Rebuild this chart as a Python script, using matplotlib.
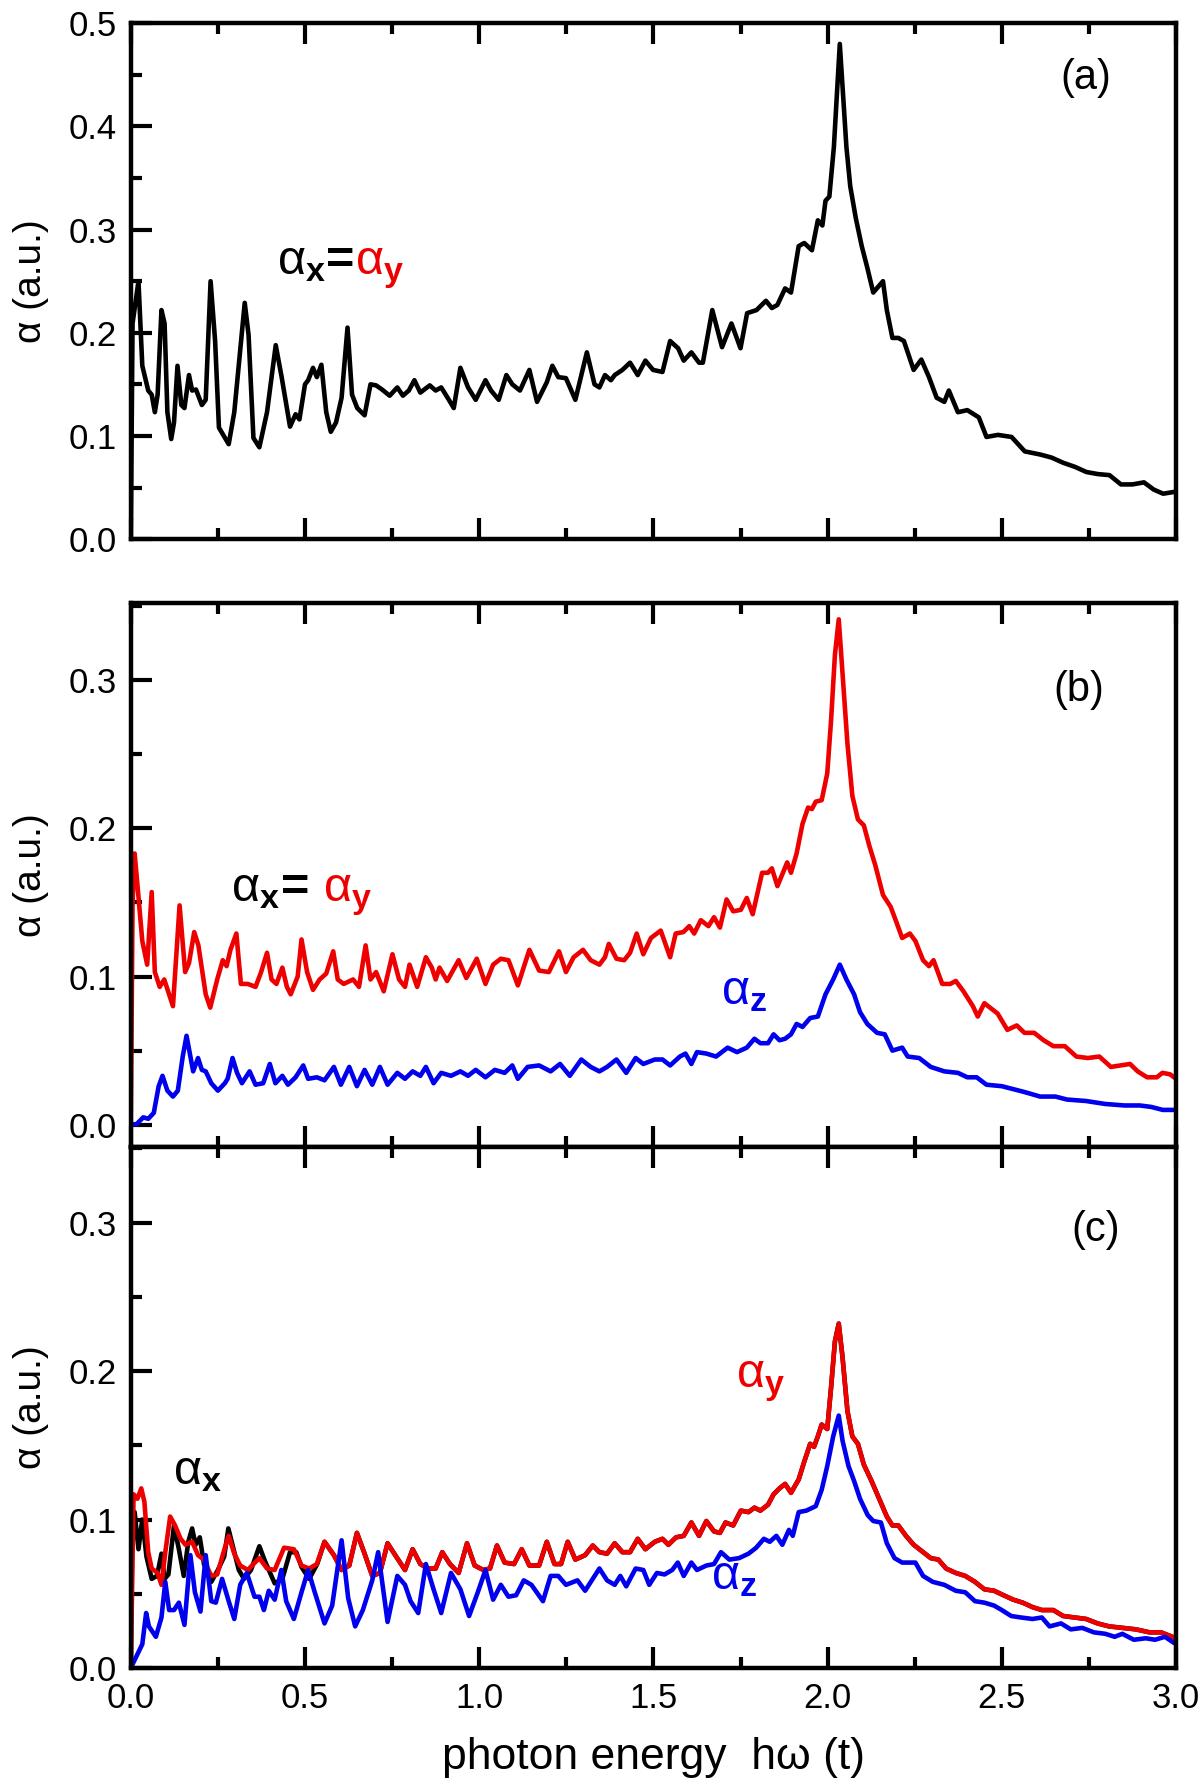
import matplotlib
matplotlib.use("Agg")
import matplotlib.pyplot as plt
from matplotlib.ticker import MultipleLocator, FormatStrFormatter

plt.rcParams['font.family'] = ['Liberation Sans', 'DejaVu Sans']
plt.rcParams['mathtext.fontset'] = 'custom'
plt.rcParams['mathtext.rm'] = 'Liberation Sans'
plt.rcParams['mathtext.bf'] = 'Liberation Sans:bold'
plt.rcParams['mathtext.it'] = 'Liberation Sans:italic'

# ---- panel (a): alpha_x = alpha_y
a_x = [0.0, 0.005, 0.022, 0.033, 0.05, 0.06, 0.069, 0.077, 0.088, 0.097, 0.105, 0.116, 0.124,
       0.134, 0.145, 0.154, 0.167, 0.176, 0.187, 0.204, 0.215, 0.229, 0.242, 0.253, 0.281,
       0.297, 0.327, 0.338, 0.352, 0.369, 0.391, 0.416, 0.433, 0.457, 0.473, 0.484, 0.5,
       0.509, 0.523, 0.534, 0.547, 0.561, 0.574, 0.589, 0.605, 0.622, 0.635, 0.65, 0.671,
       0.688, 0.704, 0.721, 0.743, 0.765, 0.781, 0.798, 0.814, 0.831, 0.858, 0.875, 0.891,
       0.913, 0.927, 0.946, 0.968, 0.99, 1.018, 1.034, 1.056, 1.078, 1.095, 1.117, 1.144,
       1.166, 1.194, 1.21, 1.227, 1.249, 1.276, 1.309, 1.331, 1.345, 1.361, 1.378, 1.389,
       1.411, 1.433, 1.455, 1.477, 1.499, 1.526, 1.548, 1.571, 1.587, 1.609, 1.631, 1.642,
       1.669, 1.697, 1.724, 1.75, 1.769, 1.796, 1.823, 1.84, 1.856, 1.878, 1.895, 1.917,
       1.933, 1.955, 1.972, 1.985, 1.994, 2.005, 2.018, 2.035, 2.054, 2.065, 2.081, 2.098,
       2.114, 2.131, 2.159, 2.17, 2.186, 2.203, 2.219, 2.247, 2.269, 2.291, 2.313, 2.335,
       2.348, 2.374, 2.401, 2.434, 2.456, 2.489, 2.528, 2.566, 2.61, 2.643, 2.676, 2.71,
       2.743, 2.776, 2.809, 2.842, 2.875, 2.908, 2.936, 2.963, 3.0]
a_y = [0.0, 0.209, 0.25, 0.168, 0.144, 0.14, 0.123, 0.14, 0.222, 0.209, 0.123, 0.097, 0.113,
       0.168, 0.13, 0.127, 0.159, 0.144, 0.145, 0.13, 0.135, 0.25, 0.192, 0.108, 0.092,
       0.123, 0.229, 0.198, 0.098, 0.089, 0.123, 0.188, 0.157, 0.109, 0.121, 0.116, 0.15,
       0.154, 0.166, 0.157, 0.169, 0.123, 0.104, 0.113, 0.137, 0.205, 0.14, 0.127, 0.12,
       0.15, 0.149, 0.145, 0.139, 0.147, 0.139, 0.144, 0.154, 0.142, 0.149, 0.144, 0.147,
       0.135, 0.127, 0.166, 0.147, 0.135, 0.154, 0.144, 0.135, 0.159, 0.15, 0.144, 0.164,
       0.133, 0.152, 0.168, 0.157, 0.156, 0.135, 0.181, 0.15, 0.147, 0.159, 0.154, 0.159,
       0.164, 0.171, 0.159, 0.173, 0.164, 0.162, 0.192, 0.185, 0.173, 0.181, 0.171, 0.171,
       0.222, 0.186, 0.209, 0.185, 0.219, 0.222, 0.231, 0.224, 0.227, 0.243, 0.239, 0.284,
       0.287, 0.28, 0.309, 0.304, 0.328, 0.332, 0.38, 0.48, 0.38, 0.342, 0.311, 0.284,
       0.263, 0.239, 0.25, 0.222, 0.195, 0.195, 0.192, 0.164, 0.174, 0.157, 0.137, 0.133,
       0.144, 0.123, 0.125, 0.118, 0.099, 0.101, 0.099, 0.085, 0.082, 0.079, 0.074, 0.07,
       0.065, 0.063, 0.062, 0.053, 0.053, 0.055, 0.048, 0.044, 0.046]

# ---- panel (b): alpha_x = alpha_y (red), alpha_z (blue)
b_red_x = [0.0, 0.005, 0.011, 0.019, 0.033, 0.047, 0.06, 0.069, 0.083, 0.096, 0.121, 0.14,
           0.156, 0.167, 0.182, 0.194, 0.215, 0.228, 0.248, 0.264, 0.275, 0.286, 0.303,
           0.316, 0.336, 0.358, 0.374, 0.391, 0.404, 0.418, 0.435, 0.448, 0.459, 0.479, 0.49,
           0.506, 0.523, 0.542, 0.561, 0.581, 0.594, 0.611, 0.638, 0.655, 0.674, 0.688,
           0.704, 0.726, 0.751, 0.77, 0.787, 0.8, 0.822, 0.847, 0.864, 0.875, 0.886, 0.908,
           0.941, 0.963, 0.993, 1.018, 1.04, 1.062, 1.084, 1.111, 1.144, 1.172, 1.2, 1.229,
           1.249, 1.271, 1.298, 1.32, 1.345, 1.361, 1.372, 1.394, 1.416, 1.433, 1.452, 1.471,
           1.493, 1.521, 1.548, 1.564, 1.586, 1.603, 1.617, 1.636, 1.658, 1.674, 1.691, 1.71,
           1.729, 1.751, 1.768, 1.785, 1.812, 1.829, 1.84, 1.856, 1.884, 1.895, 1.911, 1.928,
           1.944, 1.955, 1.966, 1.983, 1.999, 2.01, 2.021, 2.032, 2.043, 2.057, 2.071, 2.087,
           2.104, 2.12, 2.137, 2.159, 2.181, 2.197, 2.214, 2.236, 2.252, 2.274, 2.291, 2.304,
           2.329, 2.352, 2.368, 2.39, 2.417, 2.431, 2.45, 2.488, 2.516, 2.543, 2.565, 2.593,
           2.62, 2.648, 2.681, 2.714, 2.747, 2.78, 2.813, 2.84, 2.868, 2.89, 2.917, 2.945,
           2.961, 2.983, 3.0]
b_red_y = [0.0, 0.149, 0.183, 0.162, 0.124, 0.108, 0.157, 0.103, 0.093, 0.098, 0.08, 0.148,
           0.103, 0.109, 0.13, 0.121, 0.088, 0.079, 0.098, 0.111, 0.107, 0.118, 0.129, 0.095,
           0.095, 0.093, 0.103, 0.116, 0.098, 0.095, 0.106, 0.093, 0.088, 0.1, 0.125, 0.103,
           0.091, 0.098, 0.102, 0.117, 0.098, 0.095, 0.098, 0.093, 0.121, 0.098, 0.103, 0.09,
           0.115, 0.098, 0.093, 0.108, 0.093, 0.113, 0.106, 0.098, 0.106, 0.097, 0.111,
           0.099, 0.112, 0.095, 0.108, 0.112, 0.111, 0.094, 0.118, 0.104, 0.103, 0.117,
           0.103, 0.113, 0.118, 0.111, 0.108, 0.113, 0.122, 0.112, 0.111, 0.116, 0.129,
           0.115, 0.126, 0.131, 0.113, 0.129, 0.13, 0.134, 0.129, 0.138, 0.134, 0.14, 0.133,
           0.152, 0.144, 0.145, 0.153, 0.142, 0.17, 0.17, 0.173, 0.161, 0.177, 0.17, 0.183,
           0.203, 0.214, 0.213, 0.218, 0.219, 0.237, 0.273, 0.317, 0.341, 0.304, 0.257,
           0.222, 0.206, 0.202, 0.188, 0.175, 0.155, 0.147, 0.137, 0.126, 0.129, 0.124,
           0.111, 0.107, 0.111, 0.095, 0.095, 0.097, 0.09, 0.08, 0.073, 0.082, 0.075, 0.064,
           0.067, 0.062, 0.062, 0.057, 0.053, 0.053, 0.046, 0.045, 0.046, 0.039, 0.04, 0.041,
           0.036, 0.032, 0.032, 0.035, 0.034, 0.031]

b_blue_x = [0.0, 0.017, 0.036, 0.05, 0.066, 0.08, 0.091, 0.105, 0.121, 0.135, 0.149, 0.16,
            0.171, 0.179, 0.193, 0.204, 0.215, 0.231, 0.25, 0.27, 0.278, 0.292, 0.305, 0.319,
            0.341, 0.358, 0.38, 0.399, 0.415, 0.435, 0.451, 0.473, 0.495, 0.509, 0.534,
            0.556, 0.583, 0.603, 0.627, 0.649, 0.671, 0.693, 0.715, 0.737, 0.765, 0.787,
            0.809, 0.831, 0.847, 0.869, 0.891, 0.919, 0.946, 0.968, 0.99, 1.018, 1.045, 1.073,
            1.095, 1.111, 1.139, 1.172, 1.205, 1.232, 1.26, 1.293, 1.32, 1.345, 1.367, 1.394,
            1.422, 1.449, 1.471, 1.504, 1.526, 1.548, 1.576, 1.592, 1.609, 1.625, 1.652, 1.68,
            1.713, 1.74, 1.768, 1.79, 1.807, 1.829, 1.845, 1.862, 1.878, 1.895, 1.911, 1.928,
            1.95, 1.972, 1.994, 2.016, 2.035, 2.054, 2.076, 2.093, 2.114, 2.142, 2.164, 2.186,
            2.214, 2.23, 2.263, 2.296, 2.335, 2.374, 2.401, 2.428, 2.456, 2.5, 2.533, 2.566,
            2.61, 2.654, 2.687, 2.742, 2.797, 2.852, 2.896, 2.929, 2.962, 3.0]
b_blue_y = [0.0, 0.0005, 0.005, 0.004, 0.008, 0.026, 0.033, 0.023, 0.019, 0.023, 0.046, 0.06,
            0.046, 0.036, 0.045, 0.037, 0.036, 0.028, 0.023, 0.028, 0.031, 0.045, 0.035,
            0.028, 0.036, 0.027, 0.028, 0.041, 0.028, 0.033, 0.027, 0.032, 0.04, 0.031,
            0.032, 0.03, 0.039, 0.027, 0.039, 0.026, 0.037, 0.027, 0.039, 0.027, 0.035,
            0.031, 0.036, 0.033, 0.039, 0.028, 0.035, 0.033, 0.036, 0.033, 0.037, 0.032,
            0.037, 0.035, 0.04, 0.031, 0.039, 0.04, 0.036, 0.041, 0.033, 0.044, 0.039, 0.036,
            0.039, 0.044, 0.035, 0.045, 0.041, 0.044, 0.044, 0.04, 0.046, 0.048, 0.041, 0.049,
            0.048, 0.046, 0.052, 0.049, 0.052, 0.058, 0.055, 0.055, 0.061, 0.057, 0.058,
            0.061, 0.068, 0.066, 0.072, 0.073, 0.088, 0.098, 0.108, 0.098, 0.088, 0.076,
            0.068, 0.062, 0.061, 0.05, 0.052, 0.046, 0.045, 0.039, 0.036, 0.035, 0.032, 0.032,
            0.027, 0.026, 0.024, 0.022, 0.019, 0.019, 0.017, 0.016, 0.014, 0.013, 0.013,
            0.012, 0.01, 0.01]

# ---- panel (c): alpha_x (black), alpha_y (red), alpha_z (blue)
c_red_x = [0.0, 0.008, 0.019, 0.03, 0.039, 0.05, 0.06, 0.077, 0.088, 0.099, 0.113, 0.127,
           0.143, 0.157, 0.176, 0.193, 0.209, 0.231, 0.248, 0.27, 0.281, 0.297, 0.314, 0.336,
           0.352, 0.369, 0.391, 0.413, 0.44, 0.468, 0.49, 0.512, 0.534, 0.556, 0.583, 0.605,
           0.627, 0.649, 0.671, 0.693, 0.715, 0.737, 0.759, 0.787, 0.809, 0.831, 0.853,
           0.875, 0.894, 0.916, 0.941, 0.965, 0.987, 1.012, 1.031, 1.051, 1.073, 1.1, 1.122,
           1.144, 1.172, 1.194, 1.216, 1.235, 1.254, 1.276, 1.304, 1.326, 1.345, 1.367, 1.389,
           1.411, 1.433, 1.455, 1.477, 1.504, 1.526, 1.543, 1.565, 1.587, 1.609, 1.631, 1.652,
           1.674, 1.691, 1.707, 1.729, 1.751, 1.773, 1.79, 1.807, 1.829, 1.845, 1.862, 1.878,
           1.895, 1.917, 1.933, 1.95, 1.961, 1.972, 1.983, 1.999, 2.01, 2.021, 2.032, 2.043,
           2.057, 2.071, 2.087, 2.104, 2.126, 2.148, 2.17, 2.186, 2.203, 2.225, 2.247, 2.274,
           2.296, 2.318, 2.34, 2.368, 2.395, 2.423, 2.45, 2.478, 2.505, 2.533, 2.56, 2.588,
           2.615, 2.648, 2.676, 2.709, 2.742, 2.775, 2.808, 2.846, 2.885, 2.924, 2.957, 3.0]
c_red_y = [0.0, 0.117, 0.114, 0.121, 0.112, 0.078, 0.067, 0.064, 0.056, 0.078, 0.102, 0.096,
           0.087, 0.083, 0.085, 0.076, 0.073, 0.062, 0.063, 0.081, 0.089, 0.077, 0.069,
           0.066, 0.07, 0.074, 0.067, 0.066, 0.081, 0.08, 0.069, 0.067, 0.07, 0.085, 0.076,
           0.066, 0.069, 0.091, 0.077, 0.062, 0.064, 0.084, 0.076, 0.066, 0.08, 0.07, 0.067,
           0.067, 0.078, 0.07, 0.064, 0.084, 0.069, 0.066, 0.067, 0.0825, 0.071, 0.07, 0.08,
           0.069, 0.069, 0.085, 0.07, 0.07, 0.085, 0.073, 0.076, 0.0825, 0.078, 0.077, 0.084,
           0.078, 0.078, 0.087, 0.08, 0.085, 0.087, 0.083, 0.088, 0.089, 0.098, 0.089, 0.099,
           0.092, 0.091, 0.098, 0.096, 0.106, 0.105, 0.108, 0.106, 0.11, 0.117, 0.121, 0.124,
           0.118, 0.127, 0.139, 0.151, 0.149, 0.156, 0.164, 0.161, 0.189, 0.22, 0.232, 0.209,
           0.173, 0.156, 0.151, 0.137, 0.126, 0.114, 0.102, 0.096, 0.096, 0.089, 0.083, 0.078,
           0.074, 0.073, 0.067, 0.064, 0.062, 0.058, 0.053, 0.052, 0.049, 0.046, 0.044, 0.041,
           0.039, 0.039, 0.035, 0.034, 0.033, 0.03, 0.028, 0.027, 0.026, 0.024, 0.024, 0.02]

# black curve differs from red only at low energy; above 0.55 it lies under the red one
c_black_x_low = [0.0, 0.004, 0.011, 0.022, 0.033, 0.045, 0.06, 0.075, 0.088, 0.097, 0.108,
                 0.124, 0.138, 0.152, 0.165, 0.176, 0.186, 0.198, 0.21, 0.231, 0.25, 0.268,
                 0.28, 0.295, 0.31, 0.325, 0.345, 0.369, 0.385, 0.413, 0.435, 0.457, 0.475,
                 0.49, 0.512, 0.535]
c_black_y_low = [0.0, 0.09, 0.105, 0.08, 0.1, 0.075, 0.06, 0.062, 0.077, 0.06, 0.063,
                 0.096, 0.08, 0.062, 0.085, 0.094, 0.083, 0.088, 0.07, 0.058, 0.066, 0.075,
                 0.094, 0.08, 0.066, 0.06, 0.066, 0.082, 0.072, 0.057, 0.06, 0.078, 0.078,
                 0.068, 0.06, 0.07]

c_blue_x = [0.0, 0.033, 0.044, 0.052, 0.072, 0.088, 0.099, 0.11, 0.124, 0.138, 0.154, 0.171,
            0.184, 0.2, 0.215, 0.231, 0.244, 0.262, 0.281, 0.297, 0.314, 0.333, 0.355, 0.369,
            0.382, 0.396, 0.413, 0.432, 0.446, 0.468, 0.49, 0.509, 0.528, 0.556, 0.578, 0.605,
            0.624, 0.644, 0.666, 0.693, 0.71, 0.737, 0.765, 0.787, 0.803, 0.825, 0.847, 0.869,
            0.891, 0.919, 0.946, 0.971, 0.996, 1.018, 1.04, 1.062, 1.084, 1.106, 1.128, 1.15,
            1.183, 1.205, 1.227, 1.249, 1.282, 1.304, 1.326, 1.345, 1.367, 1.389, 1.405,
            1.422, 1.449, 1.471, 1.488, 1.51, 1.532, 1.554, 1.57, 1.587, 1.609, 1.625, 1.652,
            1.674, 1.694, 1.718, 1.746, 1.773, 1.795, 1.817, 1.834, 1.853, 1.87, 1.889, 1.9,
            1.917, 1.939, 1.966, 1.983, 1.999, 2.016, 2.032, 2.043, 2.06, 2.076, 2.093, 2.115,
            2.131, 2.153, 2.17, 2.192, 2.214, 2.236, 2.252, 2.274, 2.302, 2.335, 2.368, 2.395,
            2.423, 2.45, 2.478, 2.5, 2.527, 2.555, 2.588, 2.615, 2.637, 2.67, 2.698, 2.731,
            2.764, 2.797, 2.824, 2.846, 2.879, 2.913, 2.94, 2.968, 3.0]
c_blue_y = [0.0, 0.016, 0.037, 0.028, 0.021, 0.034, 0.058, 0.039, 0.039, 0.044, 0.029, 0.076,
            0.051, 0.038, 0.076, 0.045, 0.044, 0.06, 0.045, 0.033, 0.056, 0.064, 0.048, 0.048,
            0.039, 0.052, 0.046, 0.066, 0.045, 0.033, 0.051, 0.066, 0.051, 0.03, 0.042, 0.086,
            0.047, 0.028, 0.039, 0.059, 0.078, 0.031, 0.062, 0.056, 0.045, 0.037, 0.07, 0.053,
            0.037, 0.064, 0.053, 0.035, 0.051, 0.066, 0.046, 0.056, 0.048, 0.049, 0.059,
            0.056, 0.045, 0.062, 0.062, 0.056, 0.059, 0.052, 0.06, 0.067, 0.059, 0.056, 0.062,
            0.055, 0.067, 0.066, 0.056, 0.064, 0.063, 0.066, 0.071, 0.062, 0.071, 0.066,
            0.069, 0.07, 0.078, 0.073, 0.074, 0.077, 0.081, 0.087, 0.085, 0.089, 0.083, 0.093,
            0.089, 0.105, 0.106, 0.109, 0.12, 0.136, 0.156, 0.17, 0.153, 0.136, 0.126, 0.114,
            0.103, 0.099, 0.098, 0.084, 0.074, 0.071, 0.071, 0.071, 0.062, 0.058, 0.056,
            0.052, 0.051, 0.045, 0.044, 0.042, 0.039, 0.035, 0.034, 0.033, 0.034, 0.028, 0.03,
            0.026, 0.027, 0.024, 0.023, 0.021, 0.023, 0.019, 0.02, 0.019, 0.021, 0.016]

c_black_x = c_black_x_low + [x for x in c_red_x if x > 0.55]
c_black_y = c_black_y_low + [y for x, y in zip(c_red_x, c_red_y) if x > 0.55]

RED = '#ee0000'
BLUE = '#0000ee'
LW = 3.3
TICK_FS = 25

fig = plt.figure(figsize=(12, 17.91), dpi=100)
ax_a = fig.add_axes([0.109, 0.699, 0.871, 0.288])
ax_b = fig.add_axes([0.109, 0.3596, 0.871, 0.3037])
ax_c = fig.add_axes([0.109, 0.0687, 0.871, 0.2909])

line_kw = dict(lw=LW, solid_joinstyle='round', solid_capstyle='round')
ax_a.plot(a_x, a_y, color='black', **line_kw)
ax_b.plot(b_red_x, b_red_y, color=RED, **line_kw)
ax_b.plot(b_blue_x, b_blue_y, color=BLUE, **line_kw)
ax_c.plot(c_black_x, c_black_y, color='black', **line_kw)
ax_c.plot(c_red_x, c_red_y, color=RED, **line_kw)
ax_c.plot(c_blue_x, c_blue_y, color=BLUE, **line_kw)

ax_a.set_ylim(0, 0.5)
ax_b.set_ylim(-0.015, 0.352)
ax_c.set_ylim(0, 0.351)

for ax in (ax_a, ax_b, ax_c):
    ax.set_xlim(0, 3.0)
    ax.xaxis.set_major_locator(MultipleLocator(0.5))
    ax.xaxis.set_minor_locator(MultipleLocator(0.25))
    ax.yaxis.set_major_locator(MultipleLocator(0.1))
    ax.yaxis.set_minor_locator(MultipleLocator(0.05))
    ax.tick_params(which='both', direction='in', top=True, right=False, width=3.0,
                   labelsize=TICK_FS)
    ax.tick_params(which='major', length=15, pad=10)
    ax.tick_params(which='minor', length=8)
    ax.yaxis.set_major_formatter(FormatStrFormatter('%.1f'))
    ax.xaxis.set_major_formatter(FormatStrFormatter('%.1f'))
    for sp in ax.spines.values():
        sp.set_linewidth(3.2)
    ax.set_ylabel('α (a.u.)', fontsize=28, labelpad=14)

ax_a.tick_params(labelbottom=False)
ax_b.tick_params(labelbottom=False)
ax_c.set_xlabel('photon energy  hω (t)', fontsize=32, labelpad=16)

ax_a.text(2.74, 0.447, '(a)', fontsize=30, ha='center', va='center')
ax_b.text(2.72, 0.293, '(b)', fontsize=30, ha='center', va='center')
ax_c.text(2.77, 0.295, '(c)', fontsize=30, ha='center', va='center')

renderer = fig.canvas.get_renderer()


def chain(ax, x, y, parts, size=35):
    t = None
    for s, c, w in parts:
        if t is None:
            xd = x
        else:
            bb = t.get_window_extent(renderer=renderer)
            xd = ax.transData.inverted().transform((bb.x1, bb.y0))[0]
        t = ax.text(xd, y, s, color=c, fontsize=size, fontweight=w, va='baseline')


chain(ax_a, 0.42, 0.257, [('α$_\\mathbf{x}$', 'black', 'normal'),
                          ('=', 'black', 'bold'),
                          ('α$_\\mathbf{y}$', RED, 'normal')])
chain(ax_b, 0.289, 0.151, [('α$_\\mathbf{x}$', 'black', 'normal'),
                           ('= ', 'black', 'bold'),
                           ('α$_\\mathbf{y}$', RED, 'normal')])
chain(ax_b, 1.695, 0.0815, [('α$_\\mathbf{z}$', BLUE, 'normal')])
chain(ax_c, 0.121, 0.124, [('α$_\\mathbf{x}$', 'black', 'normal')])
chain(ax_c, 1.738, 0.189, [('α$_\\mathbf{y}$', RED, 'normal')])
chain(ax_c, 1.666, 0.053, [('α$_\\mathbf{z}$', BLUE, 'normal')])

fig.savefig('out.png', dpi=100)
